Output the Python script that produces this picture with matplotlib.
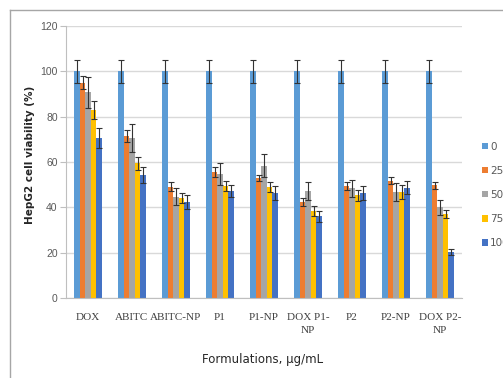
import numpy as np
import matplotlib; matplotlib.use("Agg")
import matplotlib.pyplot as plt
from matplotlib.lines import Line2D

# --- data ---
formulations = ["DOX", "ABITC", "ABITC-NP", "P1", "P1-NP", "DOX P1-\nNP", "P2", "P2-NP", "DOX P2-\nNP"]
concs = ["0", "25", "50", "75", "100"]
v0 = [100, 100, 100, 100, 100, 100, 100, 100, 100]
e0 = [5, 5, 5, 5, 5, 5, 5, 5, 5]
v25 = [95, 71.5, 49, 55.6, 52.9, 42.5, 49.3, 51.8, 49.7]
e25 = [3, 2.5, 2, 2, 1.5, 1.8, 1.7, 1.6, 1.6]
v50 = [90.7, 70.6, 44.7, 54.7, 58.4, 47.3, 48.4, 46.9, 40]
e50 = [7, 6, 3.7, 4.7, 5, 4, 3.8, 4, 3.2]
v75 = [82.8, 59.4, 44, 49.3, 48.8, 38.4, 45.3, 46.8, 37]
e75 = [4, 3, 2.2, 2.3, 2.2, 2.3, 2.3, 3, 1.8]
v100 = [70.6, 54.1, 42.3, 47.3, 46.2, 36, 46.2, 48.7, 20.3]
e100 = [4.5, 3.5, 3, 2.7, 3, 2.5, 3, 3, 1.5]
colors = ["#5B9BD5", "#ED7D31", "#A5A5A5", "#FFC000", "#4472C4"]

series = [(v0, e0), (v25, e25), (v50, e50), (v75, e75), (v100, e100)]

fig = plt.figure(figsize=(5.03, 3.78), dpi=100)
ax = fig.add_axes([66/503, 1-298/378, 396/503, 272/378])

x = np.arange(len(formulations))
w = 0.125
handles = []
for i, (vals, errs) in enumerate(series):
    pos = x + (i - 2) * w
    b = ax.bar(pos, vals, width=w, color=colors[i], zorder=2, label=concs[i])
    ax.errorbar(pos, vals, yerr=errs, fmt="none", ecolor="#333333",
                elinewidth=0.8, capsize=2.2, capthick=0.8, zorder=3)
    handles.append(b)

ax.set_xlim(-0.5, len(formulations) - 0.5)
ax.set_ylim(0, 120)
ax.set_yticks(range(0, 121, 20))
ax.yaxis.grid(True, color="#D9D9D9", lw=1, zorder=0)
ax.set_axisbelow(True)
for s in ["top", "right"]:
    ax.spines[s].set_visible(False)
ax.spines["left"].set_color("#BFBFBF")
ax.spines["bottom"].set_color("#BFBFBF")
ax.tick_params(axis="y", length=4, color="#BFBFBF", pad=2, labelsize=7.5, labelcolor="#595959")
ax.tick_params(axis="x", length=0, pad=11, labelsize=8, labelcolor="#404040")
ax.set_xticks(x)
ax.set_xticklabels(formulations, family="Liberation Serif", linespacing=1.5, va="top")
for t in ax.get_yticklabels():
    t.set_family("Liberation Sans")

fig.text(30/503, 1-155/378, "HepG2 cell viability (%)", rotation=90, ha="center", va="center",
         fontsize=7.5, weight="bold", color="#262626")
fig.text(263/503, 1-359/378, "Formulations, µg/mL", ha="center", va="center",
         fontsize=8.5, color="#262626")

fig.legend(handles=handles, loc="center left", bbox_to_anchor=(478/503, 1-195/378),
           frameon=False, fontsize=7.5, handlelength=0.55, handleheight=0.55,
           handletextpad=0.2, labelspacing=1.35, borderaxespad=0, labelcolor="#595959")

# outer chart frame (partly cropped in the original)
fig.add_artist(Line2D([10/503, 10/503], [0, 1-10/378], color="#A6A6A6", lw=1))
fig.add_artist(Line2D([10/503, 1], [1-10/378, 1-10/378], color="#A6A6A6", lw=1))

fig.savefig("out.png", dpi=100)
